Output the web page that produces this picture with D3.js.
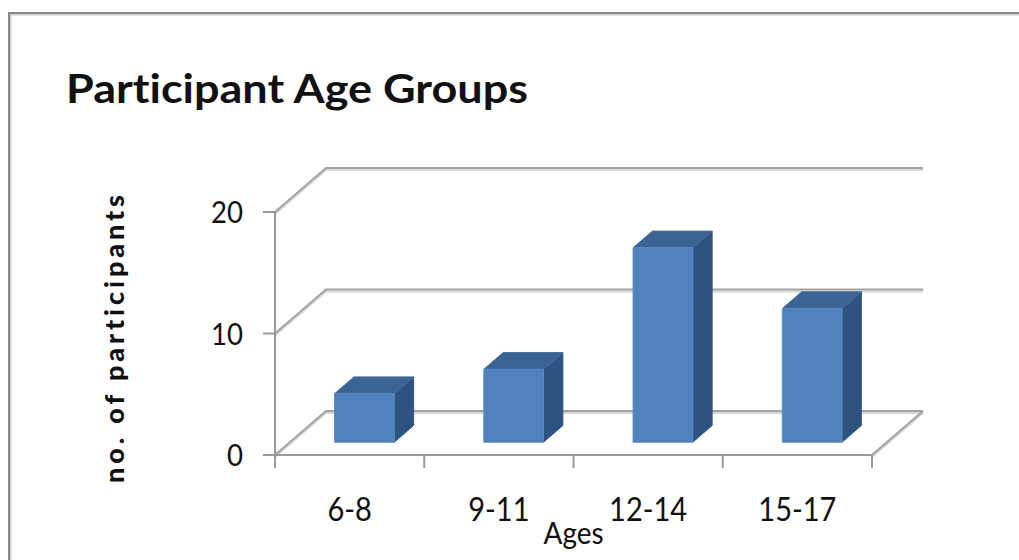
<!DOCTYPE html>
<html>
<head>
<meta charset="utf-8">
<script src="https://cdn.jsdelivr.net/npm/d3@7"></script>
<style>
  html, body { margin: 0; padding: 0; background: #fff; }
  svg { display: block; }
  text { font-family: Lato, "Open Sans", sans-serif; fill: #111; font-variant-ligatures: none; }
</style>
</head>
<body>
<div id="chart"></div>
<script>
// chart values
const categories = ['6-8', '9-11', '12-14', '15-17'];
const participants = [4, 6, 16, 11];
const yTicks = [0, 10, 20];
const titleText = 'Participant Age Groups';
const xTitle = 'Ages';
const yTitle = 'no. of participants';

const width = 1019;
const height = 560;

// 3d look: how far the back wall sits from the front plane
const depth = { dx: 51, dy: -44 };
const barDepth = { from: 0.29, to: 0.67 };
const barColors = { front: '#4f81bd', top: '#3b6393', side: '#2f5380' };

const svg = d3.select('#chart').append('svg')
  .attr('width', width)
  .attr('height', height);

// frame of the chart area (right and bottom run off the picture)
svg.append('path')
  .attr('d', 'M9,560 V13 H1019')
  .attr('fill', 'none')
  .attr('stroke', '#cfcfcf')
  .attr('stroke-width', 2)
  .attr('transform', 'translate(1.5,1.5)');
svg.append('path')
  .attr('d', 'M9,560 V13 H1019')
  .attr('fill', 'none')
  .attr('stroke', '#8a8a8a')
  .attr('stroke-width', 2);

const x = d3.scaleBand()
  .domain(categories)
  .range([275, 872])
  .padding(0);

const y = d3.scaleLinear()
  .domain([0, 20])
  .range([455, 212]);

// project a point (front-plane x, value, depth fraction) to screen
const proj = (px, v, t) => [px + depth.dx * t, y(v) + depth.dy * t];
const line = d3.line();

const grid = svg.append('g').attr('class', 'grid');

function gridPath(v) {
  return line([proj(x.range()[0], v, 0), proj(x.range()[0], v, 1), proj(x.range()[1], v, 1)]);
}

// gridlines on the left + back walls, with a soft shadow
yTicks.forEach(v => {
  grid.append('path')
    .attr('d', gridPath(v))
    .attr('fill', 'none')
    .attr('stroke', '#d6d6d6')
    .attr('stroke-width', 2)
    .attr('transform', 'translate(0,2)');
  grid.append('path')
    .attr('d', gridPath(v))
    .attr('fill', 'none')
    .attr('stroke', '#a3a3a3')
    .attr('stroke-width', 2);
});

// floor: right edge diagonal
const floorRight = line([proj(x.range()[1], 0, 0), proj(x.range()[1], 0, 1)]);
grid.append('path').attr('d', floorRight).attr('stroke', '#d6d6d6').attr('stroke-width', 2).attr('transform', 'translate(0,2)');
grid.append('path').attr('d', floorRight).attr('stroke', '#a3a3a3').attr('stroke-width', 2);

// bars
const bars = svg.append('g').attr('class', 'bars')
  .selectAll('g')
  .data(categories.map((c, i) => ({ cat: c, value: participants[i] })))
  .join('g');

const barW = x.bandwidth() * 0.4;
const barX0 = d => x(d.cat) + (x.bandwidth() - barW) / 2;

bars.append('path') // side
  .attr('d', d => {
    const x1 = barX0(d) + barW;
    return line([proj(x1, 0, barDepth.from), proj(x1, 0, barDepth.to),
      proj(x1, d.value, barDepth.to), proj(x1, d.value, barDepth.from)]) + 'Z';
  })
  .attr('fill', barColors.side)
  .attr('stroke', '#34598a')
  .attr('stroke-width', 1);

bars.append('path') // top
  .attr('d', d => {
    const x0 = barX0(d), x1 = x0 + barW;
    return line([proj(x0, d.value, barDepth.from), proj(x1, d.value, barDepth.from),
      proj(x1, d.value, barDepth.to), proj(x0, d.value, barDepth.to)]) + 'Z';
  })
  .attr('fill', barColors.top)
  .attr('stroke', '#42699a')
  .attr('stroke-width', 1);

bars.append('path') // front
  .attr('d', d => {
    const x0 = barX0(d), x1 = x0 + barW;
    return line([proj(x0, 0, barDepth.from), proj(x1, 0, barDepth.from),
      proj(x1, d.value, barDepth.from), proj(x0, d.value, barDepth.from)]) + 'Z';
  })
  .attr('fill', barColors.front)
  .attr('stroke', '#5a8cc8')
  .attr('stroke-width', 1);

// axes on the front plane
const axes = svg.append('g').attr('class', 'axes')
  .attr('stroke', '#9a9a9a')
  .attr('stroke-width', 2)
  .attr('fill', 'none');

axes.append('path').attr('d', line([[275, y(20)], [275, 468]]));
axes.append('path').attr('d', line([[275, y(0)], [872, y(0)]]));
yTicks.forEach(v => axes.append('path').attr('d', line([[263, y(v)], [275, y(v)]])));
const xEdges = categories.map(c => x(c)).concat([x.range()[1]]);
xEdges.forEach(e => axes.append('path').attr('d', line([[e, y(0)], [e, 468]])));

// squeeze text horizontally so its shape is closer to the original font
function squeeze(sel, k) {
  sel.each(function () {
    const w = this.getComputedTextLength();
    d3.select(this).attr('textLength', w * k).attr('lengthAdjust', 'spacingAndGlyphs');
  });
}

// y tick labels
svg.append('g')
  .selectAll('text')
  .data(yTicks)
  .join('text')
  .attr('x', 243)
  .attr('y', d => y(d) + 11)
  .attr('text-anchor', 'end')
  .attr('font-size', 31)
  .text(d => d)
  .call(squeeze, 0.89);

// x tick labels
svg.append('g')
  .selectAll('text')
  .data(categories)
  .join('text')
  .attr('x', d => x(d) + x.bandwidth() / 2)
  .attr('y', 521)
  .attr('text-anchor', 'middle')
  .attr('font-size', 33)
  .text(d => d)
  .call(squeeze, 0.88);

// axis titles
svg.append('text')
  .attr('x', (x.range()[0] + x.range()[1]) / 2)
  .attr('y', 544)
  .attr('text-anchor', 'middle')
  .attr('font-size', 31)
  .text(xTitle)
  .call(squeeze, 0.9);

svg.append('text')
  .attr('transform', 'translate(124,339) rotate(-90)')
  .attr('text-anchor', 'middle')
  .attr('font-size', 27)
  .attr('font-weight', 900)
  .attr('textLength', 288)
  .attr('lengthAdjust', 'spacing')
  .text(yTitle);

// title
svg.append('text')
  .attr('x', 66)
  .attr('y', 103)
  .attr('font-size', 41)
  .attr('font-weight', 700)
  .attr('textLength', 462)
  .attr('lengthAdjust', 'spacingAndGlyphs')
  .text(titleText);
</script>
</body>
</html>
